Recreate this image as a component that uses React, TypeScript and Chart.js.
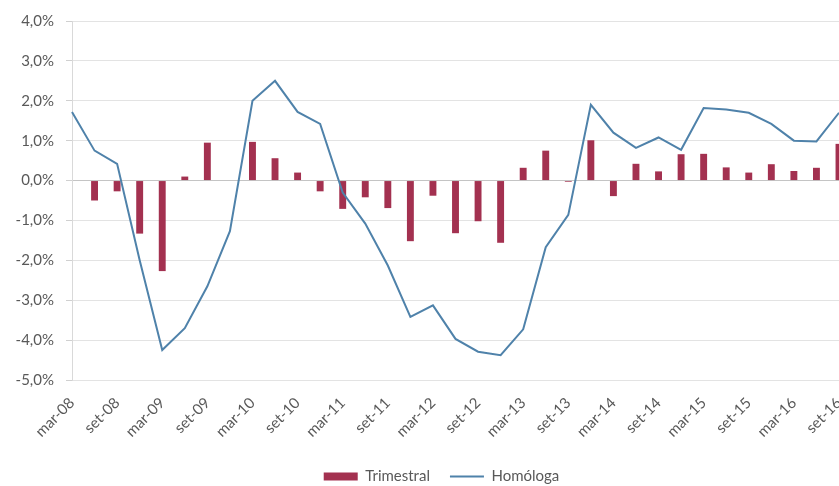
import { useEffect, useRef } from "react";
import { Chart, registerables } from "chart.js";

Chart.register(...registerables);

// Quarterly periods (Portuguese month abbreviations)
const periods = [
  "mar-08", "jun-08", "set-08", "dez-08",
  "mar-09", "jun-09", "set-09", "dez-09",
  "mar-10", "jun-10", "set-10", "dez-10",
  "mar-11", "jun-11", "set-11", "dez-11",
  "mar-12", "jun-12", "set-12", "dez-12",
  "mar-13", "jun-13", "set-13", "dez-13",
  "mar-14", "jun-14", "set-14", "dez-14",
  "mar-15", "jun-15", "set-15", "dez-15",
  "mar-16", "jun-16", "set-16",
];

// Quarter-on-quarter change, %
const trimestral = [
  null, -0.5, -0.27, -1.33,
  -2.27, 0.1, 0.95, 0.0,
  0.97, 0.56, 0.2, -0.27,
  -0.71, -0.42, -0.69, -1.52,
  -0.38, -1.32, -1.02, -1.56,
  0.32, 0.75, -0.03, 1.01,
  -0.39, 0.42, 0.23, 0.66,
  0.67, 0.33, 0.2, 0.41,
  0.24, 0.32, 0.92,
];

// Year-on-year change, %
const homologa = [
  1.72, 0.75, 0.42, -2.0,
  -4.25, -3.7, -2.65, -1.27,
  2.0, 2.5, 1.72, 1.42,
  -0.3, -1.08, -2.13, -3.42,
  -3.13, -3.97, -4.29, -4.38,
  -3.73, -1.67, -0.86, 1.9,
  1.2, 0.82, 1.08, 0.77,
  1.82, 1.78, 1.7, 1.42,
  1.0, 0.98, 1.7,
];

const yTicks = [-5, -4, -3, -2, -1, 0, 1, 2, 3, 4];

const BAR_COLOR = "#A33150";
const LINE_COLOR = "#4F82AA";
const TEXT_COLOR = "#595959";
const FONT = "Lato, 'Liberation Sans', sans-serif";

const fmtPct = (v: number) => v.toFixed(1).replace(".", ",") + "%";

// Nudge the legend so it sits under the middle of the plot area
const legendUnderPlot = {
  id: "legendUnderPlot",
  afterLayout(c: any) {
    if (c.legend) {
      const shift = 22;
      c.legend.left += shift;
      c.legend.right += shift;
    }
  },
};

export default function App() {
  const canvasRef = useRef<HTMLCanvasElement | null>(null);

  useEffect(() => {
    if (!canvasRef.current) return;
    const chart = new Chart(canvasRef.current, {
      type: "bar",
      data: {
        labels: periods,
        datasets: [
          {
            type: "bar",
            label: "Trimestral",
            data: trimestral,
            backgroundColor: BAR_COLOR,
            borderWidth: 0,
            barPercentage: 0.9,
            categoryPercentage: 0.34,
            order: 1,
            clip: false,
          },
          {
            type: "line",
            label: "Homóloga",
            data: homologa,
            borderColor: LINE_COLOR,
            backgroundColor: LINE_COLOR,
            borderWidth: 2,
            pointRadius: 0,
            tension: 0,
            fill: false,
            order: 0,
            clip: false,
          },
        ],
      },
      plugins: [legendUnderPlot],
      options: {
        animation: false,
        responsive: true,
        maintainAspectRatio: false,
        layout: { padding: { top: 20, right: 0, bottom: 0, left: 0 } },
        plugins: {
          tooltip: { enabled: false },
          legend: {
            position: "bottom",
            labels: {
              usePointStyle: true,
              pointStyleWidth: 34,
              boxHeight: 8,
              padding: 20,
              color: TEXT_COLOR,
              font: { family: FONT, size: 15 },
              generateLabels(c: Chart) {
                const items = Chart.defaults.plugins.legend.labels.generateLabels(c);
                items.sort((a: any, b: any) => a.datasetIndex - b.datasetIndex);
                items.forEach((it: any) => {
                  it.pointStyle = it.datasetIndex === 0 ? "rect" : "line";
                  it.lineWidth = it.datasetIndex === 0 ? 0 : 2;
                });
                return items;
              },
            },
          },
        },
        scales: {
          x: {
            offset: false,
            grid: { display: false },
            border: { display: false },
            afterFit(scale: any) {
              scale.height = 69;
              scale.paddingRight = 0;
            },
            ticks: {
              autoSkip: false,
              maxRotation: 45,
              minRotation: 45,
              padding: 6,
              color: TEXT_COLOR,
              font: { family: FONT, size: 15 },
              callback(_v: any, i: number) {
                return i % 2 === 0 ? periods[i] : "";
              },
            },
          },
          y: {
            min: -5,
            max: 4,
            afterFit(scale: any) {
              scale.width = 72;
            },
            afterBuildTicks(scale: any) {
              scale.ticks = yTicks.map((v) => ({ value: v }));
            },
            grid: {
              color: (ctx: any) => (ctx.tick && ctx.tick.value === 0 ? "#c4c4c4" : "#e3e3e3"),
              lineWidth: 1,
              tickLength: 6,
              tickColor: "#d0d0d0",
            },
            border: { display: true, color: "#d9d9d9" },
            ticks: {
              padding: 12,
              color: TEXT_COLOR,
              font: { family: FONT, size: 15 },
              callback(v: any) {
                return fmtPct(Number(v));
              },
            },
          },
        },
      },
    } as any);
    return () => chart.destroy();
  }, []);

  return (
    <div style={{ position: "fixed", left: 0, top: 0, width: 839, height: 486, overflow: "hidden", background: "#fff" }}>
      <div style={{ position: "relative", width: 839, height: 494 }}>
        <canvas ref={canvasRef} />
      </div>
    </div>
  );
}
